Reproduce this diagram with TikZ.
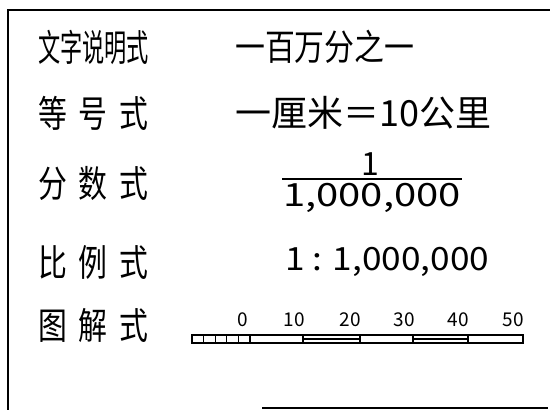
\documentclass[tikz,border=0pt]{standalone}
\usepackage{fontspec}
\setmainfont{Noto Sans CJK SC}
\begin{document}
\begin{tikzpicture}[x=1pt,y=-1pt,
  frameline/.style={line width=2pt,black},
  lbl/.style={anchor=west,inner sep=0pt,font=\fontsize{37}{37}\selectfont},
  val/.style={anchor=west,inner sep=0pt,font=\fontsize{36}{36}\selectfont},
  digits/.style={inner sep=0pt,font=\fontsize{32}{32}\selectfont},
  num/.style={inner sep=0pt,font=\fontsize{19}{19}\selectfont},
  bar/.style={line width=1.1pt,black}]
\useasboundingbox (0,0) rectangle (550,410);
% frame
\coordinate (tl) at (8,10);
\coordinate (tr) at (550,10);
\coordinate (bl) at (8,410);
\coordinate (bs) at (262,408);
\coordinate (be) at (548,408);
\draw[frameline] (bl) -- (tl) -- (tr);
\draw[frameline,line width=1.6pt] (bs) -- (be);
% left labels
\node[lbl,xscale=0.6] (r1) at (38,47) {文字说明式};
\node[lbl,xscale=0.78] (r2) at (38,113) {等\hspace{15pt}号\hspace{15pt}式};
\node[lbl,xscale=0.78] (r3) at (38,183) {分\hspace{15pt}数\hspace{15pt}式};
\node[lbl,xscale=0.78] (r4) at (38,262) {比\hspace{15pt}例\hspace{15pt}式};
\node[lbl,xscale=0.78] (r5) at (38,325) {图\hspace{15pt}解\hspace{15pt}式};
% values
\node[val,xscale=0.83] (v1) at (235,47) {一百万分之一};
\node[val] (v2) at (235,113) {一厘米＝10公里};
\node[digits] (numer) at (370,164) {1};
\node[digits,xscale=1.25] (den) at (372,198) {1,000,000};
\draw[line width=1.3pt] (282,179) -- (462,179);
\node[digits,anchor=west,xscale=1.1] (v4) at (285,262) {1 : 1,000,000};
% scale bar
\def\by{335}\def\bh{8}
\foreach \i in {0,...,4}{
  \draw[bar] (192+\i*11.6,\by) rectangle (192+\i*11.6+11.6,\by+\bh);
}
\draw[bar] (250,\by) rectangle (303,\by+\bh);
\draw[bar] (303,\by) rectangle (360,\by+\bh);
\draw[bar] (303,\by+\bh/2) -- (360,\by+\bh/2);
\draw[bar] (360,\by) rectangle (413,\by+\bh);
\draw[bar] (413,\by) rectangle (468,\by+\bh);
\draw[bar] (413,\by+\bh/2) -- (468,\by+\bh/2);
\draw[bar] (468,\by) rectangle (523,\by+\bh);
\node[num] (l0) at (243,320) {0};
\node[num] (l1) at (294,320) {10};
\node[num] (l2) at (350,320) {20};
\node[num] (l3) at (404,320) {30};
\node[num] (l4) at (458,320) {40};
\node[num] (l5) at (513,320) {50};
\end{tikzpicture}
\end{document}
